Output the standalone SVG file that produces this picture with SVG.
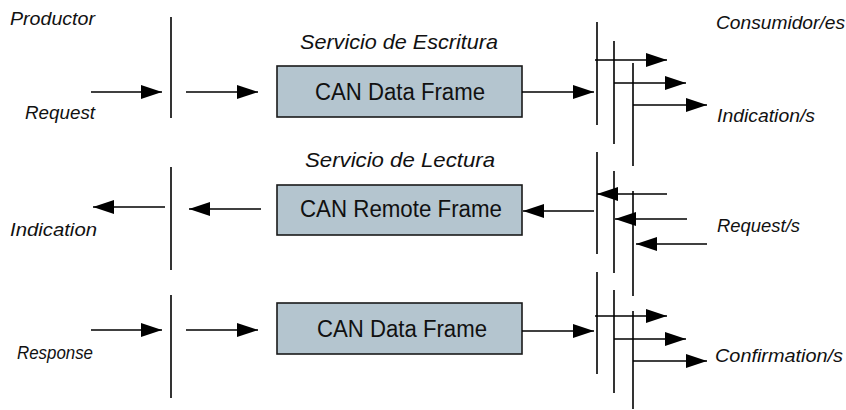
<svg xmlns="http://www.w3.org/2000/svg" width="846" height="410" viewBox="0 0 846 410">
  <defs>
    <marker id="ah" markerUnits="userSpaceOnUse" markerWidth="21" markerHeight="14" refX="21" refY="7" orient="auto">
      <path d="M0,0 L21,7 L0,14 z" fill="#000"/>
    </marker>
    <style>
      .ln { stroke:#000; stroke-width:1.6; fill:none; }
      .ar { stroke:#000; stroke-width:1.6; fill:none; marker-end:url(#ah); }
      .box { fill:#b4c5cf; stroke:#1a1a1a; stroke-width:1.6; }
      .lbl { font-family:"Liberation Sans", Arial, sans-serif; font-style:italic; font-size:18.5px; fill:#111; }
      .svc { font-family:"Liberation Sans", Arial, sans-serif; font-style:italic; font-size:21px; fill:#111; }
      .bt { font-family:"Liberation Sans", Arial, sans-serif; font-size:23px; fill:#111; text-anchor:middle; }
    </style>
  </defs>

  <rect width="846" height="410" fill="#fff"/>

  <g id="labels">
    <text class="lbl" x="10" y="25" textLength="85" lengthAdjust="spacingAndGlyphs">Productor</text>
    <text class="lbl" x="25" y="119" textLength="70" lengthAdjust="spacingAndGlyphs">Request</text>
    <text class="lbl" x="716" y="29" textLength="129" lengthAdjust="spacingAndGlyphs">Consumidor/es</text>
    <text class="lbl" x="717" y="122" textLength="98" lengthAdjust="spacingAndGlyphs">Indication/s</text>
    <text class="lbl" x="10" y="236" textLength="87" lengthAdjust="spacingAndGlyphs">Indication</text>
    <text class="lbl" x="717" y="232" textLength="83" lengthAdjust="spacingAndGlyphs">Request/s</text>
    <text class="lbl" x="17" y="359" textLength="76" lengthAdjust="spacingAndGlyphs">Response</text>
    <text class="lbl" x="715" y="362" textLength="128" lengthAdjust="spacingAndGlyphs">Confirmation/s</text>
    <text class="svc" x="300" y="49" textLength="198" lengthAdjust="spacingAndGlyphs">Servicio de Escritura</text>
    <text class="svc" x="305" y="167" textLength="190" lengthAdjust="spacingAndGlyphs">Servicio de Lectura</text>
  </g>

  <g id="box-write">
    <rect class="box" x="277" y="66" width="245" height="51"/>
    <text class="bt" x="400" y="100" textLength="170" lengthAdjust="spacingAndGlyphs">CAN Data Frame</text>
  </g>
  <g id="box-read">
    <rect class="box" x="277" y="185" width="245" height="50"/>
    <text class="bt" x="401" y="217" textLength="202" lengthAdjust="spacingAndGlyphs">CAN Remote Frame</text>
  </g>
  <g id="box-response">
    <rect class="box" x="277" y="303" width="245" height="51"/>
    <text class="bt" x="402" y="337" textLength="170" lengthAdjust="spacingAndGlyphs">CAN Data Frame</text>
  </g>

  <g id="connectors">
    <line class="ln" x1="171" y1="17" x2="171" y2="118"/>
    <line class="ln" x1="171" y1="167" x2="171" y2="270"/>
    <line class="ln" x1="171" y1="295" x2="171" y2="398"/>

    <line class="ar" x1="91" y1="92" x2="162" y2="92"/>
    <line class="ar" x1="186" y1="92" x2="258" y2="92"/>
    <line class="ar" x1="522" y1="92" x2="594" y2="92"/>

    <line class="ar" x1="594" y1="211" x2="523" y2="211"/>
    <line class="ar" x1="261" y1="209" x2="189" y2="209"/>
    <line class="ar" x1="165" y1="207" x2="93" y2="207"/>

    <line class="ar" x1="91" y1="330" x2="162" y2="330"/>
    <line class="ar" x1="186" y1="330" x2="258" y2="330"/>
    <line class="ar" x1="522" y1="331" x2="594" y2="331"/>

    <line class="ln" x1="597" y1="22" x2="597" y2="125"/>
    <line class="ln" x1="614" y1="41" x2="614" y2="144"/>
    <line class="ln" x1="633" y1="63" x2="633" y2="166"/>
    <line class="ar" x1="595" y1="60" x2="667" y2="60"/>
    <line class="ar" x1="614" y1="83" x2="686" y2="83"/>
    <line class="ar" x1="633" y1="105" x2="707" y2="105"/>

    <line class="ln" x1="597" y1="152" x2="597" y2="254"/>
    <line class="ln" x1="614" y1="171" x2="614" y2="273"/>
    <line class="ln" x1="633" y1="191" x2="633" y2="296"/>
    <line class="ar" x1="667" y1="194" x2="597" y2="194"/>
    <line class="ar" x1="687" y1="219" x2="615" y2="219"/>
    <line class="ar" x1="707" y1="244" x2="636" y2="244"/>

    <line class="ln" x1="597" y1="272" x2="597" y2="374"/>
    <line class="ln" x1="614" y1="290" x2="614" y2="393"/>
    <line class="ln" x1="633" y1="311" x2="633" y2="409"/>
    <line class="ar" x1="595" y1="316" x2="667" y2="316"/>
    <line class="ar" x1="614" y1="339" x2="686" y2="339"/>
    <line class="ar" x1="633" y1="361" x2="707" y2="361"/>
  </g>
</svg>
